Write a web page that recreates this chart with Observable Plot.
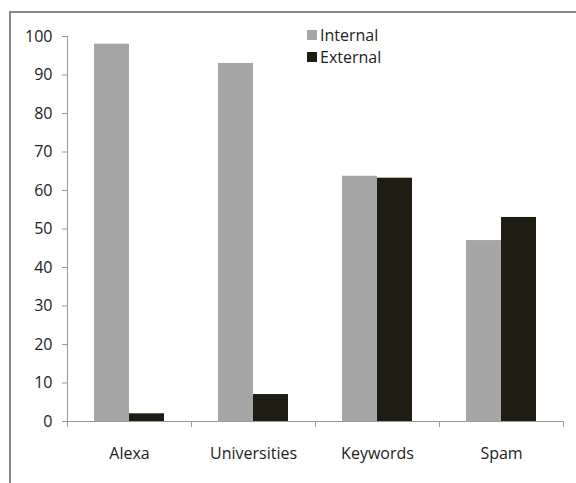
<!DOCTYPE html>
<html><head><meta charset="utf-8">
<script src="https://cdn.jsdelivr.net/npm/d3@7"></script>
<script src="https://cdn.jsdelivr.net/npm/@observablehq/plot@0.6"></script>
<style>
body{margin:0;background:#fff;}
#wrap{position:relative;width:576px;height:483px;overflow:hidden;font-family:"Open Sans",sans-serif;}
#chart{position:absolute;left:0;top:0;}
#borderTop{position:absolute;left:9px;top:11px;width:580px;height:0;border-top:2px solid #8a8a8a;}
#borderLeft{position:absolute;left:9px;top:11px;width:0;height:480px;border-left:2px solid #8a8a8a;}
#legend{position:absolute;left:307px;top:24px;font-size:16px;color:#222;}
#legend .row{display:flex;align-items:center;height:22px;}
#legend .sw{display:inline-block;width:10px;height:10px;margin-right:3px;}
</style></head><body>
<div id="wrap"><div id="chart"></div><div id="borderTop"></div><div id="borderLeft"></div><div id="legend"></div></div>
<script>
const categories = ["Alexa", "Universities", "Keywords", "Spam"];
const series = ["Internal", "External"];
const internal = [98, 93, 63.7, 47];
const external = [2, 7, 63.2, 53];
const yTicks = [0, 10, 20, 30, 40, 50, 60, 70, 80, 90, 100];
const colors = ["#a6a6a6", "#1f1d12"];

const data = categories.flatMap((c, i) => [
  {category: c, series: series[0], value: internal[i]},
  {category: c, series: series[1], value: external[i]}
]);

const axisColor = "#9a9a9a";
const textColor = "#222";

const plot = Plot.plot({
  width: 576, height: 483,
  marginLeft: 67, marginRight: 13, marginTop: 36, marginBottom: 62,
  style: {fontFamily: "'Open Sans', sans-serif", fontSize: "16px", color: textColor, background: "transparent", overflow: "visible"},
  fx: {domain: categories, padding: 0, label: null, axis: null},
  x: {domain: series, paddingInner: 0, paddingOuter: 0.77, axis: null},
  y: {domain: [0, 100], label: null, axis: null},
  color: {domain: series, range: colors},
  marks: [
    Plot.barY(data, {fx: "category", x: "series", y: "value", fill: "series"}),
    Plot.ruleY([0], {stroke: axisColor}),
    Plot.frame({anchor: "left", stroke: axisColor, insetTop: 385, insetBottom: -5}),
    Plot.frame({anchor: "right", stroke: axisColor, insetTop: 385, insetBottom: -5}),
    Plot.frame({anchor: "left", stroke: axisColor, facetAnchor: "left"}),
    Plot.axisY(yTicks, {tickSize: 5, tickPadding: 10, stroke: axisColor, fill: textColor, label: null}),
    Plot.axisFx({anchor: "bottom", tickSize: 0, tickPadding: 26, fill: textColor, label: null})
  ]
});
document.getElementById("chart").appendChild(plot);

const color = plot.scale("color");
const legend = document.getElementById("legend");
series.forEach((s, i) => {
  const row = document.createElement("div");
  row.className = "row";
  const sw = document.createElement("span");
  sw.className = "sw";
  sw.style.background = color.range[i];
  const t = document.createElement("span");
  t.textContent = s;
  row.appendChild(sw); row.appendChild(t);
  legend.appendChild(row);
});
</script>
</body></html>
